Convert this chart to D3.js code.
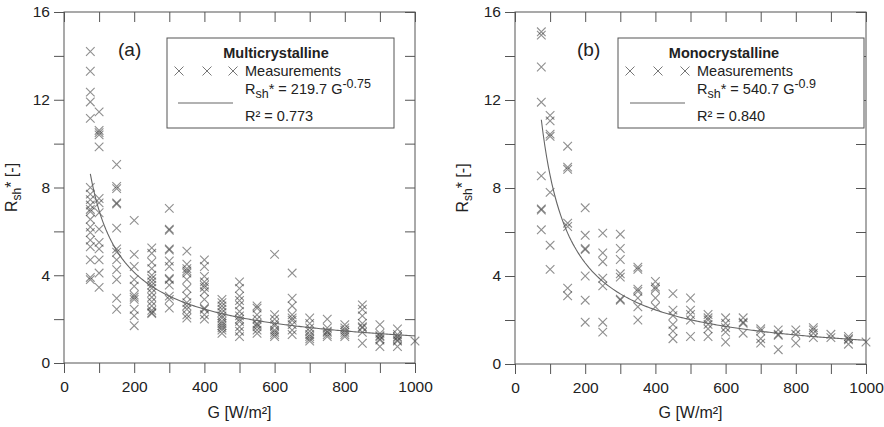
<!DOCTYPE html>
<html>
<head>
<meta charset="utf-8">
<script src="https://cdn.jsdelivr.net/npm/d3@7"></script>
<style>
  body { margin: 0; background: #fff; }
  svg text { font-family: "Liberation Sans", Arial, sans-serif; fill: #222; }
</style>
</head>
<body>
<svg id="chart" width="884" height="427"></svg>
<script>
let svg = d3.select("#chart");

//! DATA
let gLevels = [75, 100, 150, 200, 250, 300, 350, 400, 450, 500, 550, 600, 650, 700, 750, 800, 850, 900, 950, 1000];

let multiValues = [
    [14.2, 13.3, 12.35, 11.9, 11.15, 8.0, 7.7, 7.45, 7.2, 7.0, 6.9, 6.55, 6.2, 5.95, 5.6, 5.3, 4.7, 3.9, 3.8],
    [11.45, 10.6, 10.5, 10.4, 9.85, 7.5, 7.3, 6.85, 6.1, 5.5, 5.2, 4.7, 4.1, 3.45],
    [9.05, 8.05, 7.95, 7.3, 7.25, 6.15, 5.2, 5.05, 4.7, 4.25, 3.8, 2.95, 2.45],
    [6.5, 4.95, 4.4, 3.8, 3.5, 3.1, 3.0, 2.9, 2.45, 2.15, 1.7],
    [5.25, 5.0, 4.6, 4.3, 4.0, 3.85, 3.7, 3.55, 3.4, 3.2, 3.0, 2.8, 2.6, 2.4, 2.3, 2.25],
    [7.05, 6.1, 6.05, 5.2, 5.15, 4.65, 4.4, 3.85, 3.8, 3.55, 3.05, 2.9, 2.5],
    [5.1, 4.5, 4.3, 4.2, 4.1, 3.8, 3.4, 3.05, 2.75, 2.6, 2.45, 2.2, 2.05],
    [4.7, 4.4, 3.95, 3.7, 3.55, 3.45, 3.25, 2.9, 2.5, 2.45, 2.2, 2.0],
    [2.9, 2.75, 2.6, 2.45, 2.3, 2.15, 2.05, 1.9, 1.8, 1.7, 1.6, 1.5, 1.35],
    [3.7, 3.4, 3.05, 2.85, 2.65, 2.35, 2.15, 2.0, 1.9, 1.65, 1.45, 1.2],
    [2.6, 2.5, 2.2, 2.0, 1.8, 1.75, 1.65, 1.5, 1.35],
    [4.95, 2.2, 2.0, 1.8, 1.7, 1.5, 1.4, 1.3, 1.2],
    [4.1, 2.95, 2.6, 2.2, 2.05, 1.95, 1.75, 1.5, 1.3],
    [2.05, 1.8, 1.6, 1.45, 1.3, 1.2, 1.1, 1.0],
    [2.0, 1.6, 1.45, 1.4, 1.3, 1.2],
    [1.75, 1.6, 1.5, 1.4, 1.3, 1.2],
    [2.65, 2.45, 2.15, 1.8, 1.65, 1.6, 1.4, 0.9],
    [1.75, 1.35, 1.25, 1.2, 1.1, 1.05, 0.75],
    [1.55, 1.3, 1.2, 1.15, 1.05, 1.0, 0.75],
    [1.0]
];

let monoValues = [
    [15.1, 14.95, 13.5, 11.9, 8.55, 7.05, 7.0, 6.1],
    [11.3, 11.05, 10.45, 10.35, 7.8, 5.4, 4.3],
    [9.9, 8.95, 8.85, 6.4, 6.25, 3.45, 3.1],
    [7.1, 5.85, 5.25, 5.2, 4.0, 2.9, 1.9],
    [5.95, 5.05, 4.65, 3.9, 3.55, 1.9, 1.45],
    [5.9, 5.25, 4.75, 4.1, 3.95, 2.95, 2.9],
    [4.4, 4.3, 3.4, 3.3, 3.0, 2.6, 2.0],
    [3.75, 3.5, 3.4, 3.0, 2.6],
    [3.2, 2.45, 2.2, 1.8, 1.5, 1.15],
    [3.0, 2.45, 2.25, 2.0, 1.25],
    [2.25, 2.1, 2.0, 1.8, 1.6, 1.25],
    [2.1, 1.85, 1.65, 1.45, 1.0],
    [2.1, 1.9, 1.85, 1.4],
    [1.6, 1.5, 1.15, 0.95],
    [1.55, 1.35, 1.3, 0.65],
    [1.55, 1.35, 0.95],
    [1.65, 1.55, 1.4, 1.2],
    [1.35, 1.2],
    [1.25, 1.15, 1.1, 0.9],
    [1.0]
];

// fit: Rsh* = a * G^b
let multiFit = { a: 219.7, b: -0.75, r2: "0.773" };
let monoFit = { a: 540.7, b: -0.9, r2: "0.840" };

let xTicks = d3.range(0, 1001, 100);
let yTicks = d3.range(0, 17, 2);

let axisColor = "#555";

function drawPanel(p) {
    let x = d3.scaleLinear().domain([0, 1000]).range([p.left, p.left + 351]);
    let y = d3.scaleLinear().domain([0, 16]).range([p.bottom, p.top]);

    let g = svg.append("g");

    // frame
    g.append("rect")
        .attr("x", x(0)).attr("y", y(16))
        .attr("width", x(1000) - x(0)).attr("height", y(0) - y(16))
        .attr("fill", "none").attr("stroke", axisColor).attr("stroke-width", 1);

    //? Axes
    let bottom = g.append("g")
        .attr("transform", "translate(0," + y(0) + ")")
        .call(d3.axisBottom(x).tickValues(xTicks).tickSize(10).tickSizeOuter(0)
            .tickFormat(function (d) { return d % 200 === 0 ? d : ""; }));
    let top = g.append("g")
        .attr("transform", "translate(0," + y(16) + ")")
        .call(d3.axisBottom(x).tickValues(xTicks).tickSize(10).tickSizeOuter(0).tickFormat(""));
    let left = g.append("g")
        .attr("transform", "translate(" + x(0) + ",0)")
        .call(d3.axisLeft(y).tickValues(yTicks).tickSize(10).tickSizeOuter(0)
            .tickFormat(function (d) { return d % 4 === 0 ? d : ""; }));
    let right = g.append("g")
        .attr("transform", "translate(" + x(1000) + ",0)")
        .call(d3.axisLeft(y).tickValues(yTicks).tickSize(10).tickSizeOuter(0).tickFormat(""));

    [bottom, top, left, right].forEach(function (a) {
        a.select(".domain").remove();
        a.selectAll("line").attr("stroke", axisColor);
        a.selectAll("text")
            .style("font-family", "'Liberation Sans', Arial, sans-serif")
            .style("font-size", "15.5px").attr("fill", "#222");
    });
    bottom.selectAll("text").attr("y", 18);
    left.selectAll("text").attr("x", -14);

    // axis titles
    g.append("text")
        .attr("x", (x(0) + x(1000)) / 2).attr("y", 418)
        .attr("text-anchor", "middle").style("font-size", "16px")
        .text("G [W/m²]");

    let yt = g.append("text")
        .attr("transform", "translate(" + (p.left - 47) + "," + ((y(0) + y(16)) / 2) + ") rotate(-90)")
        .attr("text-anchor", "middle").style("font-size", "16px");
    yt.append("tspan").text("R");
    yt.append("tspan").attr("dy", 4).style("font-size", "12px").text("sh");
    yt.append("tspan").attr("dy", -4).text("* [-]");

    // panel tag
    g.append("text")
        .attr("x", p.tagX).attr("y", 56)
        .style("font-size", "19px")
        .text(p.tag);

    //? Measurement points
    let points = [];
    gLevels.forEach(function (G, i) {
        p.values[i].forEach(function (v) { points.push({ G: G, v: v }); });
    });

    let s = 4.3;
    g.append("g").selectAll("path")
        .data(points)
        .enter()
        .append("path")
        .attr("d", function (d) {
            let cx = x(d.G), cy = y(d.v);
            return "M" + (cx - s) + "," + (cy - s) + "L" + (cx + s) + "," + (cy + s) +
                "M" + (cx - s) + "," + (cy + s) + "L" + (cx + s) + "," + (cy - s);
        })
        .attr("fill", "none")
        .attr("stroke", "#333")
        .attr("stroke-opacity", 0.55)
        .attr("stroke-width", 1.1);

    //? Fit curve
    let fitG = d3.range(75, 1001, 5);
    let line = d3.line()
        .x(function (G) { return x(G); })
        .y(function (G) { return y(p.fit.a * Math.pow(G, p.fit.b)); });
    g.append("path")
        .datum(fitG)
        .attr("d", line)
        .attr("fill", "none")
        .attr("stroke", "#666")
        .attr("stroke-width", 1.1);

    //? Legend
    let L = p.legend;
    g.append("rect")
        .attr("x", L.x).attr("y", 38)
        .attr("width", L.w).attr("height", 90)
        .attr("fill", "#fff").attr("stroke", axisColor);

    g.append("text")
        .attr("x", L.titleX).attr("y", 58)
        .attr("text-anchor", "middle")
        .style("font-size", "14.5px").style("font-weight", "bold")
        .text(p.title);

    let ms = 4.5;
    g.append("g").selectAll("path")
        .data(L.marks)
        .enter()
        .append("path")
        .attr("d", function (cx) {
            let cy = 71;
            return "M" + (cx - ms) + "," + (cy - ms) + "L" + (cx + ms) + "," + (cy + ms) +
                "M" + (cx - ms) + "," + (cy + ms) + "L" + (cx + ms) + "," + (cy - ms);
        })
        .attr("stroke", "#777").attr("stroke-width", 1).attr("fill", "none");

    g.append("text")
        .attr("x", L.textX).attr("y", 76)
        .style("font-size", "14.5px")
        .text("Measurements");

    g.append("line")
        .attr("x1", L.lineX1).attr("x2", L.lineX2)
        .attr("y1", 103).attr("y2", 103)
        .attr("stroke", "#666").attr("stroke-width", 1.1);

    let eq = g.append("text")
        .attr("x", L.textX).attr("y", 94)
        .style("font-size", "14.5px");
    eq.append("tspan").text("R");
    eq.append("tspan").attr("dy", 4).style("font-size", "12.5px").text("sh");
    eq.append("tspan").attr("dy", -4).text("* = " + p.fit.a + " G");
    eq.append("tspan").attr("dy", -6).style("font-size", "12.5px").text(String(p.fit.b));

    g.append("text")
        .attr("x", L.textX).attr("y", 121)
        .style("font-size", "14.5px")
        .text("R² = " + p.fit.r2);
}

drawPanel({
    left: 64, top: 12, bottom: 363,
    values: multiValues, fit: multiFit,
    tag: "(a)", tagX: 118, title: "Multicrystalline",
    legend: { x: 167, w: 227, titleX: 276, marks: [179, 207, 233], textX: 245, lineX1: 178, lineX2: 233 }
});

drawPanel({
    left: 515, top: 12, bottom: 364,
    values: monoValues, fit: monoFit,
    tag: "(b)", tagX: 577, title: "Monocrystalline",
    legend: { x: 618, w: 246, titleX: 724, marks: [630, 658, 685], textX: 697, lineX1: 630, lineX2: 685 }
});
</script>
</body>
</html>
